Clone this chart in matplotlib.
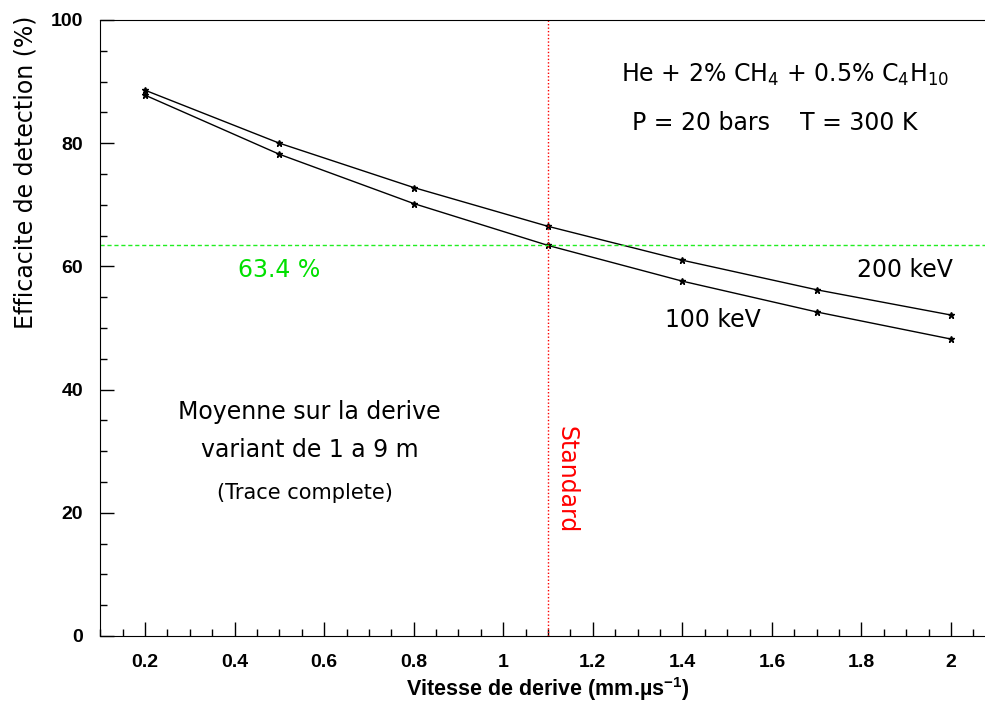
import numpy as np
import matplotlib.pyplot as plt
from matplotlib.ticker import MultipleLocator

# drift velocity (mm/us) and detection efficiency (%)
vitesse = [0.2, 0.5, 0.8, 1.1, 1.4, 1.7, 2.0]
eff_200kev = [88.6, 80.0, 72.8, 66.5, 61.0, 56.2, 52.1]
eff_100kev = [87.8, 78.2, 70.2, 63.4, 57.6, 52.6, 48.2]
seuil = 63.4
v_standard = 1.1

txt_font = ['DejaVu Sans']
tick_font = ['Liberation Sans Narrow', 'Liberation Sans', 'DejaVu Sans']
vert = '#00e000'

plt.rcParams['mathtext.fontset'] = 'custom'
plt.rcParams['mathtext.rm'] = 'DejaVu Sans'
plt.rcParams['mathtext.bf'] = 'Liberation Sans:bold'

fig = plt.figure(figsize=(9.85, 7.06), dpi=100)
ax = fig.add_axes([100 / 985, 0.0992, 0.9115, 0.8725])

ax.plot(vitesse, eff_200kev, color='black', lw=1, marker='*', ms=5)
ax.plot(vitesse, eff_100kev, color='black', lw=1, marker='*', ms=5)

ax.axhline(seuil, color='#22ee22', ls=(0, (3, 2)), lw=1)
ax.axvline(v_standard, color='red', ls=(0, (1, 1.5)), lw=1)

ax.set_xlim(0.0995, 2.1045)
ax.set_ylim(0, 100)
ax.spines['right'].set_visible(False)

ax.xaxis.set_major_locator(MultipleLocator(0.2))
ax.xaxis.set_minor_locator(MultipleLocator(0.05))
ax.yaxis.set_major_locator(MultipleLocator(20))
ax.yaxis.set_minor_locator(MultipleLocator(5))
ax.tick_params(which='both', direction='in', top=False, right=False)
ax.tick_params(which='major', length=10, width=1)
ax.tick_params(which='minor', length=5, width=1)
ax.tick_params(axis='x', pad=13)
ax.tick_params(axis='y', pad=12)
ax.set_xticks([0.2, 0.4, 0.6, 0.8, 1.0, 1.2, 1.4, 1.6, 1.8, 2.0])
ax.set_xticklabels(['0.2', '0.4', '0.6', '0.8', '1', '1.2', '1.4', '1.6', '1.8', '2'])
for lab in ax.get_xticklabels() + ax.get_yticklabels():
    lab.set_fontfamily(tick_font)
    lab.set_fontweight('bold')
    lab.set_fontsize(14)

ax.set_xlabel('Vitesse de derive (mm.µs$\\mathbf{^{-1}}$)', family=tick_font,
              fontweight='bold', fontsize=15.5)
ax.xaxis.set_label_coords(0.499, -0.064)
ax.set_ylabel('Efficacite de detection (%)', family=txt_font, fontsize=17, loc='top')
ax.yaxis.set_label_coords(-0.070, 1.007)

ax.text(1.63, 91.1, r'He + 2% CH$_4$ + 0.5% C$_4$H$_{10}$', family=txt_font, fontsize=17,
        ha='center', va='center')
ax.text(1.607, 83.3, 'P = 20 bars    T = 300 K', family=txt_font, fontsize=17,
        ha='center', va='center')
ax.text(0.50, 59.4, '63.4 %', color=vert, family=txt_font, fontsize=17,
        ha='center', va='center')
ax.text(1.897, 59.4, '200 keV', family=txt_font, fontsize=17, ha='center', va='center')
ax.text(1.468, 51.3, '100 keV', family=txt_font, fontsize=17, ha='center', va='center')
ax.text(0.568, 36.4, 'Moyenne sur la derive', family=txt_font, fontsize=17,
        ha='center', va='center')
ax.text(0.568, 30.2, 'variant de 1 a 9 m', family=txt_font, fontsize=17,
        ha='center', va='center')
ax.text(0.557, 23.2, '(Trace complete)', family=txt_font, fontsize=15,
        ha='center', va='center')
ax.text(1.142, 25.3, 'Standard', color='red', family=txt_font, fontsize=17,
        rotation=270, ha='center', va='center')

fig.savefig('out.png', dpi=100)
